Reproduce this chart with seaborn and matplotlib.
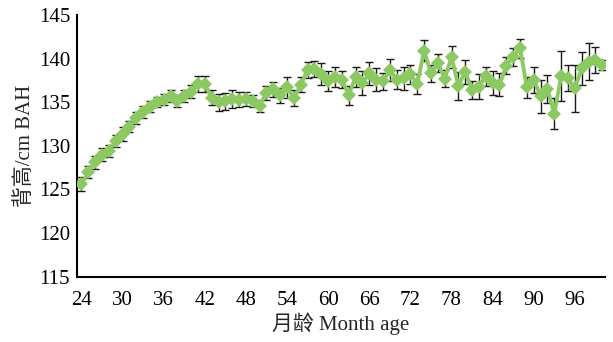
import matplotlib
matplotlib.use("Agg")
import matplotlib.pyplot as plt
import seaborn as sns
import pandas as pd
import numpy as np

# Monthly back height (cm) with standard deviation, ages 24-100 months
months = list(range(24, 101))
height = [
    125.6, 127.0, 128.1, 129.0, 129.4, 130.6, 131.4, 132.2, 133.2, 133.9,
    134.5, 135.0, 135.3, 135.7, 135.1, 135.7, 136.2, 137.1, 137.1, 135.5,
    135.0, 135.1, 135.4, 135.3, 135.4, 135.1, 134.6, 136.1, 136.5, 135.8,
    136.7, 135.5, 137.0, 138.7, 138.8, 138.2, 137.4, 137.9, 137.6, 135.8,
    137.9, 137.2, 138.3, 137.6, 137.4, 138.7, 137.6, 137.75, 138.2, 137.1,
    140.9, 138.3, 139.5, 137.7, 140.2, 136.9, 138.5, 136.4, 136.8, 138.0,
    137.2, 137.0, 139.2, 140.2, 141.2, 136.7, 137.6, 135.7, 136.5, 133.7,
    138.0, 137.75, 136.6, 138.9, 139.65, 139.85, 139.3,
]
sd = [
    0.8, 0.7, 0.7, 0.7, 0.7, 0.7, 0.8, 0.6, 0.65, 0.65,
    0.6, 0.6, 0.65, 0.7, 0.7, 0.7, 0.75, 0.9, 0.9, 0.85,
    1.0, 0.95, 1.05, 0.9, 0.8, 0.7, 0.7, 0.8, 0.85, 0.85,
    1.2, 0.9, 0.85, 0.95, 0.9, 1.25, 1.15, 1.2, 0.95, 1.1,
    1.15, 1.4, 1.3, 1.35, 1.0, 1.3, 1.1, 1.3, 1.05, 1.1,
    1.2, 1.0, 1.0, 1.0, 1.25, 1.6, 1.4, 1.05, 1.45, 1.1,
    1.35, 1.3, 1.0, 1.0, 1.1, 1.25, 1.5, 1.9, 1.6, 1.8,
    2.9, 1.5, 2.7, 1.9, 2.1, 1.5, 0.6,
]
x_ticks = list(range(24, 97, 6))
y_ticks = list(range(115, 146, 5))

df = pd.DataFrame({"month": months, "height": height, "sd": sd})

sns.set_theme(style="white")
plt.rcParams["font.family"] = ["Liberation Serif", "Noto Sans CJK SC"]
plt.rcParams["font.size"] = 15

fig = plt.figure(figsize=(6.13, 3.42), dpi=100)
ax = fig.add_axes([0.1256, 0.191, 0.8614, 0.765])

green = "#8cc963"
ax.errorbar(df["month"], df["height"], yerr=df["sd"], fmt="none",
            ecolor="#1a1a1a", elinewidth=1.0, capsize=3, capthick=1.0, zorder=1)
sns.lineplot(data=df, x="month", y="height", ax=ax, color=green,
             linewidth=2.8, marker="D", markersize=7, markeredgewidth=0,
             markerfacecolor=green, zorder=3)

ax.set_xlim(23.35, 100.4)
ax.set_ylim(115, 145)
ax.set_xticks(x_ticks)
ax.set_yticks(y_ticks)
ax.tick_params(direction="in", length=4, width=1.2, colors="black",
               labelsize=15)
ax.tick_params(axis="x", pad=10)
ax.tick_params(axis="y", pad=5)
for s in ["top", "right"]:
    ax.spines[s].set_visible(False)
for s in ["left", "bottom"]:
    ax.spines[s].set_color("black")
    ax.spines[s].set_linewidth(1.5)

ax.set_xlabel("月龄 Month age", fontsize=15, labelpad=2)
ax.set_ylabel("背高/cm BAH", fontsize=15, labelpad=3)

fig.savefig("out.png", dpi=100)
